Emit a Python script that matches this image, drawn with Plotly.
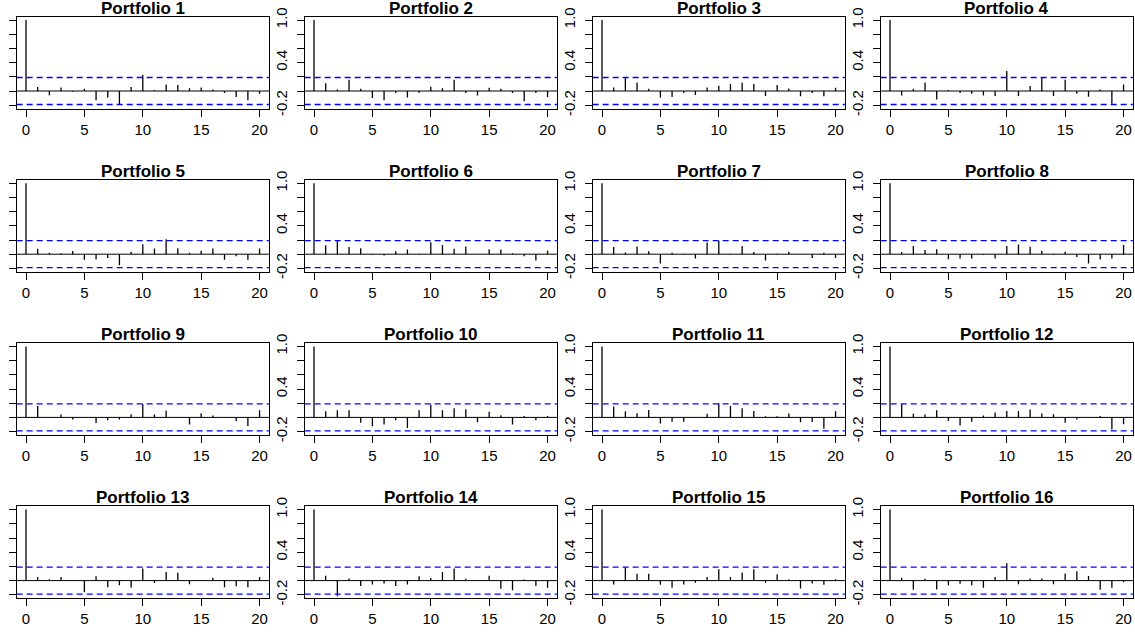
import plotly.graph_objects as go

# ---------------- data ----------------
lags = list(range(21))
ci = 0.19  # approx. 95% bound drawn as dashed blue lines

p1 = [1.0, 0.055, -0.06, 0.05, -0.01, 0.03, -0.13, -0.09, -0.19, 0.055, 0.23,
      0.015, 0.09, 0.085, 0.04, 0.05, 0.02, -0.03, -0.085, -0.13, -0.04]
p2 = [1.0, 0.11, 0.02, 0.16, 0.03, -0.10, -0.13, -0.03, -0.09, -0.03, 0.06,
      0.04, 0.16, -0.03, -0.065, 0.045, 0.03, -0.03, -0.145, -0.03, -0.085]
p3 = [1.0, 0.05, 0.19, 0.12, 0.03, -0.09, -0.085, -0.03, -0.055, 0.05, 0.075,
      0.10, 0.115, 0.10, -0.07, 0.085, 0.035, -0.075, -0.03, -0.075, 0.045]
p4 = [1.0, -0.065, 0.03, 0.12, -0.12, 0.015, -0.03, -0.04, -0.065, -0.07, 0.28,
      -0.07, 0.07, 0.19, -0.07, 0.16, -0.04, -0.08, 0.02, -0.18, 0.09]
p5 = [1.0, 0.077, 0.02, 0.015, 0.045, -0.08, -0.07, -0.055, -0.155, 0.035, 0.14,
      0.08, 0.21, 0.085, 0.02, 0.05, 0.08, -0.08, -0.03, -0.08, 0.08]
p6 = [1.0, 0.125, 0.20, 0.10, 0.085, -0.01, -0.02, 0.04, 0.065, 0.005, 0.17,
      0.13, 0.075, 0.11, -0.005, 0.07, 0.065, 0.015, -0.03, -0.09, 0.05]
p7 = [1.0, 0.10, 0.025, 0.11, 0.04, -0.13, 0.02, -0.01, -0.06, 0.165, 0.19,
      0.005, 0.115, 0.03, -0.09, 0.005, 0.035, -0.005, -0.055, 0.02, -0.055]
p8 = [1.0, 0.03, 0.115, 0.06, 0.07, -0.07, -0.06, -0.06, -0.01, -0.06, 0.115,
      0.135, 0.105, 0.05, 0.005, 0.035, -0.04, -0.13, -0.075, -0.06, 0.13]
p9 = [1.0, 0.16, 0.005, 0.04, -0.03, 0.005, -0.08, -0.04, -0.03, 0.045, 0.19,
      0.04, 0.095, 0.005, -0.10, 0.06, 0.025, 0.005, -0.05, -0.12, 0.10]
p10 = [1.0, 0.085, 0.10, 0.10, -0.075, -0.125, -0.10, -0.04, -0.15, 0.10, 0.18,
       0.10, 0.13, 0.115, -0.07, 0.08, 0.03, -0.10, 0.02, -0.04, 0.02]
p11 = [1.0, 0.155, 0.085, 0.06, 0.105, -0.085, -0.06, -0.06, -0.005, 0.05, 0.20,
       0.16, 0.13, 0.09, 0.015, 0.015, 0.055, -0.07, -0.065, -0.16, 0.085]
p12 = [1.0, 0.185, 0.05, 0.04, 0.10, -0.05, -0.115, -0.06, 0.025, 0.07, 0.09,
       0.09, 0.11, 0.055, 0.045, -0.075, -0.03, 0.003, 0.02, -0.17, -0.095]
p13 = [1.0, 0.05, 0.02, 0.05, 0.003, -0.165, 0.06, -0.095, -0.065, -0.10, 0.17,
       -0.035, 0.12, 0.11, -0.05, 0.01, 0.04, -0.095, -0.08, -0.095, 0.05]
p14 = [1.0, 0.07, -0.22, 0.03, -0.075, -0.055, -0.04, -0.075, -0.055, 0.06, 0.035,
       0.12, 0.17, 0.025, -0.005, 0.07, -0.115, -0.135, 0.015, -0.075, -0.10]
p15 = [1.0, -0.055, 0.185, 0.095, 0.095, -0.06, -0.10, -0.055, -0.03, 0.05, 0.16,
       0.05, 0.115, 0.16, -0.03, 0.09, 0.02, -0.11, -0.04, -0.06, 0.02]
p16 = [1.0, 0.04, -0.13, 0.025, -0.125, -0.065, -0.045, -0.065, -0.10, 0.05, 0.245,
       -0.05, 0.03, 0.03, -0.05, 0.10, 0.13, 0.065, -0.13, -0.10, -0.025]

series = [p1, p2, p3, p4, p5, p6, p7, p8, p9, p10, p11, p12, p13, p14, p15, p16]
titles = [f"Portfolio {i}" for i in range(1, 17)]
x_ticks = [0, 5, 10, 15, 20]
y_ticks = [-0.2, 0.0, 0.2, 0.4, 0.6, 0.8, 1.0]
y_ticktext = ["-0.2", "", "", "0.4", "", "", "1.0"]

# ---------------- layout geometry ----------------
W, H = 1135, 638
COL_STEP, ROW_STEP = 288.0, 163.2
BOX_L, BOX_R = 16.66, 268.9
BOX_T, BOX_B = 16.6, 108.6
FONT = "Liberation Sans, Arial, sans-serif"

fig = go.Figure()
shapes = []
annotations = []
layout_axes = {}

for i, vals in enumerate(series):
    r, c = divmod(i, 4)
    n = i + 1
    sfx = "" if n == 1 else str(n)
    xa, ya = "x" + sfx, "y" + sfx

    xs, ys = [], []
    for lag, v in zip(lags, vals):
        xs += [lag, lag, None]
        ys += [0, v, None]
    fig.add_trace(go.Scatter(x=xs, y=ys, mode="lines",
                             line=dict(color="black", width=1.3),
                             xaxis=xa, yaxis=ya, showlegend=False,
                             hoverinfo="skip"))

    x0 = (BOX_L + COL_STEP * c) / W
    x1 = min((BOX_R + COL_STEP * c) / W, 1.0)
    y1 = 1 - (BOX_T + ROW_STEP * r) / H
    y0 = 1 - (BOX_B + ROW_STEP * r) / H

    common = dict(showline=True, mirror=True, linecolor="black", linewidth=1,
                  showgrid=False, zeroline=False, ticks="outside", ticklen=7,
                  tickwidth=1, tickcolor="black", automargin=False,
                  tickfont=dict(family=FONT, size=15, color="black"))
    # the first column's y labels fall outside the picture in the reference
    ytxt = ["" for _ in y_ticks] if c == 0 else y_ticktext
    layout_axes["xaxis" + sfx] = dict(domain=[x0, x1], range=[-0.8, 20.8],
                                      anchor=ya, tickmode="array",
                                      tickvals=x_ticks,
                                      ticktext=[str(t) for t in x_ticks],
                                      **common)
    layout_axes["yaxis" + sfx] = dict(domain=[y0, y1], range=[-0.248, 1.048],
                                      anchor=xa, tickmode="array",
                                      tickvals=y_ticks, ticktext=ytxt,
                                      tickangle=-90, ticklabelstandoff=4,
                                      **common)

    shapes.append(dict(type="line", xref=xa + " domain", yref=ya,
                       x0=0, x1=1, y0=0, y1=0,
                       line=dict(color="black", width=1)))
    for b in (ci, -ci):
        shapes.append(dict(type="line", xref=xa + " domain", yref=ya,
                           x0=0, x1=1, y0=b, y1=b,
                           line=dict(color="#0000FF", width=1.3, dash="6px,4px")))

    annotations.append(dict(text="<b>" + titles[i] + "</b>",
                            xref=xa + " domain", yref=ya + " domain",
                            x=0.5, y=1, xanchor="center", yanchor="bottom",
                            yshift=-3, showarrow=False,
                            font=dict(family=FONT, size=17, color="black")))

fig.update_layout(width=W, height=H, margin=dict(l=0, r=0, t=0, b=0),
                  paper_bgcolor="white", plot_bgcolor="white",
                  template="none", shapes=shapes, annotations=annotations,
                  font=dict(family=FONT, color="black"),
                  **layout_axes)

fig.write_html("out.html", config={"displayModeBar": False},
               post_script="document.body.style.margin='0px';"
                           "document.body.style.overflow='hidden';")
